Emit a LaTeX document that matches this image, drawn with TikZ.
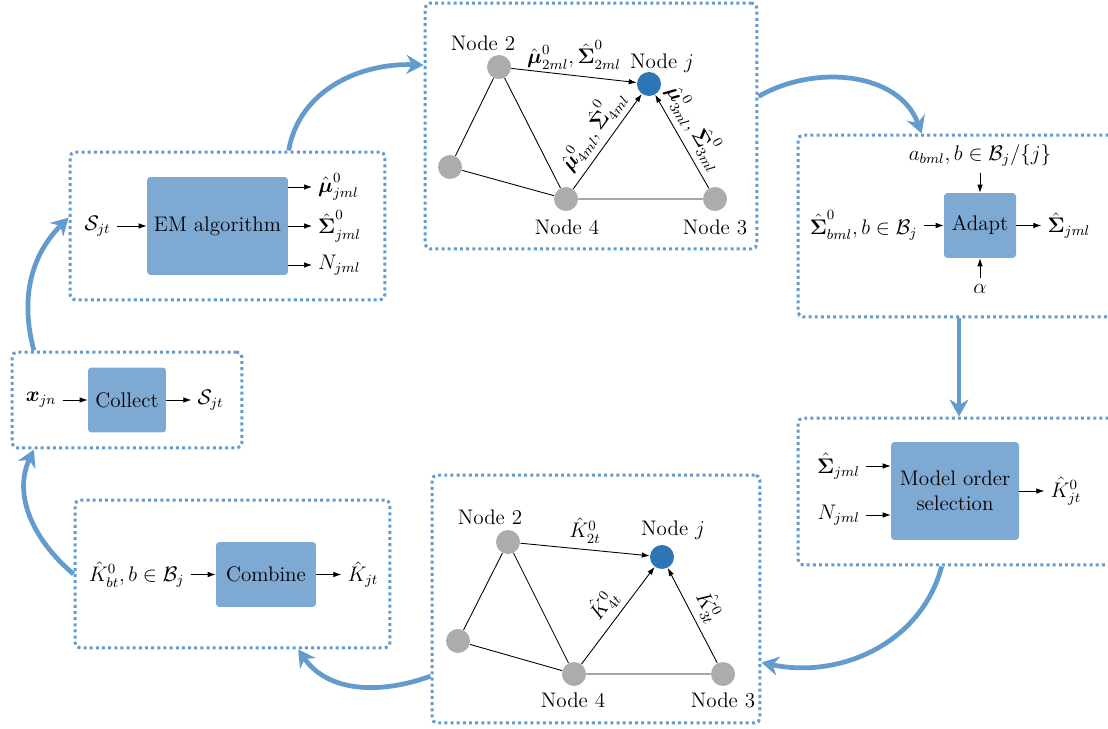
\documentclass[tikz,border=0pt]{standalone}
\usepackage{amsmath,amssymb}
\usetikzlibrary{arrows.meta, positioning}

\definecolor{flowblue}{RGB}{100,155,205}
\definecolor{blockblue}{RGB}{126,169,211}
\definecolor{nodeblue}{RGB}{46,117,182}
\definecolor{nodegray}{RGB}{172,172,172}

\begin{document}
\begin{tikzpicture}[
        x = 0.02cm, y = -0.02cm, font = \large,
        >= {Latex[length = 1.6mm, width = 1.1mm]},
        frame/.style = {draw = flowblue, line width = 1.7pt, dash pattern = on 1.7pt off 1.8pt,
                        rounded corners = 3pt, inner sep = 0pt},
        block/.style = {fill = blockblue, rounded corners = 2pt, align = center, inner sep = 0pt},
        sensor/.style = {circle, fill = nodegray, minimum size = 0.48cm, inner sep = 0pt},
        target/.style = {sensor, fill = nodeblue},
        link/.style = {line width = 0.5pt},
        flow/.style = {draw = flowblue, line width = 2.7pt, -{Stealth[length = 3.4mm, width = 3.8mm]}}
    ]
      \useasboundingbox (0,0) rectangle (1108,729);

      % frames
      \node[frame, minimum width = 4.6cm, minimum height = 1.92cm] (collframe) at (127,400) {};
      \node[frame, minimum width = 6.3cm, minimum height = 2.96cm] (emframe) at (227.5,226) {};
      \node[frame, minimum width = 6.64cm, minimum height = 4.92cm] (topframe) at (591,126) {};
      \node[frame, minimum width = 6.44cm, minimum height = 3.64cm] (adaptframe) at (959,226) {};
      \node[frame, minimum width = 6.44cm, minimum height = 2.94cm] (modelframe) at (959,491.5) {};
      \node[frame, minimum width = 6.56cm, minimum height = 4.96cm] (botframe) at (596,599) {};
      \node[frame, minimum width = 6.3cm, minimum height = 2.96cm] (combframe) at (232.5,574) {};

      % collect
      \node[block, minimum width = 1.56cm, minimum height = 1.3cm] (collect) at (127,400) {Collect};
      \node[left = 5mm of collect] (collin) {$\boldsymbol{x}_{jn}$};
      \node[right = 5mm of collect] (collout) {$\mathcal{S}_{jt}$};
      \draw[->] (collin) -- (collect);
      \draw[->] (collect) -- (collout);

      % EM algorithm
      \node[block, minimum width = 2.82cm, minimum height = 1.96cm] (em) at (217.5,226) {EM algorithm};
      \node[left = 6mm of em] (emin) {$\mathcal{S}_{jt}$};
      \node[anchor = west] (emmu) at (312,187) {$\hat{\boldsymbol{\mu}}^0_{jml}$};
      \node[anchor = west] (emsig) at (312,226) {$\hat{\boldsymbol{\Sigma}}^0_{jml}$};
      \node[anchor = west] (emn) at (312,265) {$N_{jml}$};
      \draw[->] (emin) -- (em);
      \draw[->] (em.east |- emmu) -- (emmu);
      \draw[->] (em.east |- emsig) -- (emsig);
      \draw[->] (em.east |- emn) -- (emn);

      % top graph
      \node[sensor] (a2) at (499,67) {};
      \node[target] (aj) at (649,84) {};
      \node[sensor] (a1) at (450,167) {};
      \node[sensor] (a4) at (566,199) {};
      \node[sensor] (a3) at (715,199) {};
      \node (a2name) at (483,43) {Node 2};
      \node (ajname) at (662,63) {Node $j$};
      \node (a4name) at (567,227) {Node 4};
      \node (a3name) at (715,227) {Node 3};
      \draw[link] (a2) -- (a1) (a2) -- (a4) (a1) -- (a4) (a4) -- (a3);
      \draw[link, ->] (a2) -- node[above] {$\hat{\boldsymbol{\mu}}^0_{2ml}, \hat{\boldsymbol{\Sigma}}^0_{2ml}$} (aj);
      \draw[link, ->] (a4) -- node[above, sloped] {$\hat{\boldsymbol{\mu}}^0_{4ml}, \hat{\boldsymbol{\Sigma}}^0_{4ml}$} (aj);
      \draw[link, ->] (a3) -- node[above, sloped, pos = 0.55] {$\hat{\boldsymbol{\mu}}^0_{3ml}, \hat{\boldsymbol{\Sigma}}^0_{3ml}$} (aj);

      % adapt
      \node[block, minimum width = 1.44cm, minimum height = 1.3cm] (adapt) at (980,225.5) {Adapt};
      \node[left = 4mm of adapt] (adin) {$\hat{\boldsymbol{\Sigma}}^0_{bml}, b \in \mathcal{B}_j$};
      \node[above = 4mm of adapt] (adtop) {$a_{bml}, b \in \mathcal{B}_j/\{j\}$};
      \node[below = 4mm of adapt] (adbot) {$\alpha$};
      \node[right = 5mm of adapt] (adout) {$\hat{\boldsymbol{\Sigma}}_{jml}$};
      \draw[->] (adin) -- (adapt);
      \draw[->] (adtop) -- (adapt);
      \draw[->] (adbot) -- (adapt);
      \draw[->] (adapt) -- (adout);

      % model order selection
      \node[block, minimum width = 2.56cm, minimum height = 1.96cm] (model) at (955,491) {Model order\\selection};
      \node[anchor = east] (msig) at (866,466) {$\hat{\boldsymbol{\Sigma}}_{jml}$};
      \node[anchor = east] (mn) at (866,515) {$N_{jml}$};
      \node[right = 5mm of model] (mout) {$\hat{K}^0_{jt}$};
      \draw[->] (msig) -- (model.west |- msig);
      \draw[->] (mn) -- (model.west |- mn);
      \draw[->] (model) -- (mout);

      % bottom graph
      \node[sensor] (b2) at (508,542) {};
      \node[target] (bj) at (662,557) {};
      \node[sensor] (b1) at (458,641) {};
      \node[sensor] (b4) at (574,674) {};
      \node[sensor] (b3) at (723,674) {};
      \node (b2name) at (490,517) {Node 2};
      \node (bjname) at (673,530) {Node $j$};
      \node (b4name) at (573,700) {Node 4};
      \node (b3name) at (723,700) {Node 3};
      \draw[link] (b2) -- (b1) (b2) -- (b4) (b1) -- (b4) (b4) -- (b3);
      \draw[link, ->] (b2) -- node[above] {$\hat{K}^0_{2t}$} (bj);
      \draw[link, ->] (b4) -- node[above, sloped] {$\hat{K}^0_{4t}$} (bj);
      \draw[link, ->] (b3) -- node[above, sloped] {$\hat{K}^0_{3t}$} (bj);

      % combine
      \node[block, minimum width = 2cm, minimum height = 1.3cm] (comb) at (266,574.5) {Combine};
      \node[left = 5mm of comb] (combin) {$\hat{K}^0_{bt}, b \in \mathcal{B}_j$};
      \node[right = 5mm of comb] (combout) {$\hat{K}_{jt}$};
      \draw[->] (combin) -- (comb);
      \draw[->] (comb) -- (combout);

      % flow between stages
      \draw[flow] (emframe.51) to[out = 80, in = 178] (topframe.160);
      \draw[flow] (topframe.10) to[out = 30, in = 110] (adaptframe.112);
      \draw[flow] (adaptframe.south) -- (modelframe.north);
      \draw[flow] (modelframe.257) to[out = -105, in = -12] (botframe.-21);
      \draw[flow] (botframe.205) to[out = 200, in = -55] (combframe.-49);
      \draw[flow] (combframe.west) to[out = 140, in = -115] (collframe.208);
      \draw[flow] (collframe.152) to[out = 105, in = -135] (emframe.177);
\end{tikzpicture}
\end{document}
